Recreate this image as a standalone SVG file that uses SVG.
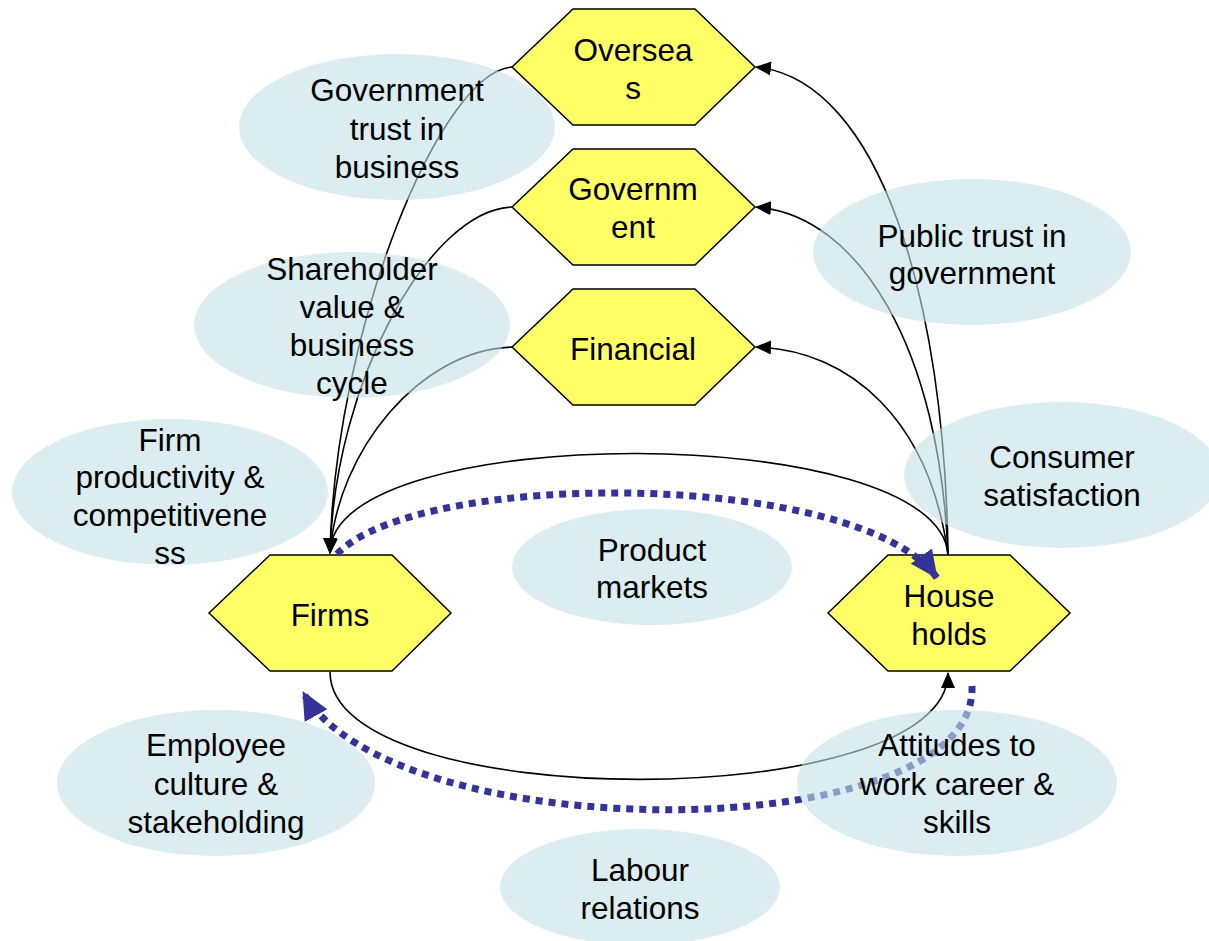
<svg xmlns="http://www.w3.org/2000/svg" width="1209" height="941" viewBox="0 0 1209 941">
<style>
.hex{fill:#FFFF66;stroke:#000;stroke-width:1.5}
.ell{fill:rgb(195,225,230);fill-opacity:0.6}
.ln{fill:none;stroke:#000;stroke-width:1.6}
.dot{fill:none;stroke:#333399;stroke-width:7;stroke-dasharray:7 6}
text{font-family:"Liberation Sans",Arial,sans-serif;font-size:31.5px;fill:#000;text-anchor:middle}
</style>
<defs>
<marker id="ah" markerUnits="userSpaceOnUse" markerWidth="16" markerHeight="14" refX="15" refY="7" orient="auto"><path d="M0,0 L16,7 L0,14 z" fill="#000"/></marker>
<marker id="bh" markerUnits="userSpaceOnUse" markerWidth="28" markerHeight="26" refX="27" refY="13" orient="auto"><path d="M0,0 L28,13 L0,26 z" fill="#333399"/></marker>
</defs>
<g id="hexagons">
<g id="overseas"><polygon class="hex" points="512,67 573,9 695,9 755,67 695,125 573,125"/></g>
<g id="government"><polygon class="hex" points="512,207 573,149 695,149 755,207 695,265 573,265"/></g>
<g id="financial"><polygon class="hex" points="512,347 573,289 695,289 755,347 695,405 573,405"/></g>
<g id="firms"><polygon class="hex" points="209,613 270,555 392,555 451,613 392,671 270,671"/></g>
<g id="households"><polygon class="hex" points="828,613 888,555 1010,555 1070,613 1010,671 888,671"/></g>
</g>
<g id="connectors">
<path class="ln" d="M512,67 C440,72 335,330 330,553" marker-end="url(#ah)"/>
<path class="ln" d="M512,207 C430,210 335,380 330,553" marker-end="url(#ah)"/>
<path class="ln" d="M512,347 C420,350 338,450 330,553" marker-end="url(#ah)"/>
<path class="ln" d="M948,555 C940,420 330,420 330,553" marker-end="url(#ah)"/>
<path class="ln" d="M948,555 C945,300 880,80 756,67" marker-end="url(#ah)"/>
<path class="ln" d="M948,555 C940,350 860,215 756,207" marker-end="url(#ah)"/>
<path class="ln" d="M948,555 C930,420 850,350 756,347" marker-end="url(#ah)"/>
<path class="ln" d="M330,672 C330,815 948,815 948,673" marker-end="url(#ah)"/>
<path class="dot" d="M337,554 C420,468 860,470 937,578" marker-end="url(#bh)"/>
<path class="dot" d="M972,686 C978,850 390,850 303,692" marker-end="url(#bh)"/>
</g>
<g id="bubbles">
<g id="b-gov-trust"><ellipse class="ell" cx="397" cy="127" rx="158" ry="73"/></g>
<g id="b-shareholder"><ellipse class="ell" cx="352" cy="325" rx="158" ry="73"/></g>
<g id="b-firm-prod"><ellipse class="ell" cx="170" cy="492" rx="158" ry="73"/></g>
<g id="b-public-trust"><ellipse class="ell" cx="972" cy="252" rx="159" ry="73"/></g>
<g id="b-consumer"><ellipse class="ell" cx="1062" cy="475" rx="158" ry="73"/></g>
<g id="b-product"><ellipse class="ell" cx="652" cy="567" rx="140" ry="58"/></g>
<g id="b-employee"><ellipse class="ell" cx="216" cy="783" rx="159" ry="73"/></g>
<g id="b-attitudes"><ellipse class="ell" cx="957" cy="783" rx="160" ry="73"/></g>
<g id="b-labour"><ellipse class="ell" cx="640" cy="887" rx="140" ry="58"/></g>
</g>
<g id="labels">
<text x="633" y="61">Oversea</text><text x="633" y="99">s</text>
<text x="633" y="200">Governm</text><text x="633" y="238">ent</text>
<text x="633" y="360">Financial</text>
<text x="330" y="626">Firms</text>
<text x="949" y="607">House</text><text x="949" y="645">holds</text>
<text x="397" y="101">Government</text><text x="397" y="140">trust in</text><text x="397" y="178">business</text>
<text x="352" y="280">Shareholder</text><text x="352" y="318">value &amp;</text><text x="352" y="356">business</text><text x="352" y="394">cycle</text>
<text x="170" y="451">Firm</text><text x="170" y="488">productivity &amp;</text><text x="170" y="526">competitivene</text><text x="170" y="564">ss</text>
<text x="972" y="247">Public trust in</text><text x="972" y="284">government</text>
<text x="1062" y="468">Consumer</text><text x="1062" y="506">satisfaction</text>
<text x="652" y="561">Product</text><text x="652" y="598">markets</text>
<text x="216" y="756">Employee</text><text x="216" y="795">culture &amp;</text><text x="216" y="833">stakeholding</text>
<text x="957" y="756">Attitudes to</text><text x="957" y="795">work career &amp;</text><text x="957" y="833">skills</text>
<text x="640" y="881">Labour</text><text x="640" y="919">relations</text>
</g>
</svg>
